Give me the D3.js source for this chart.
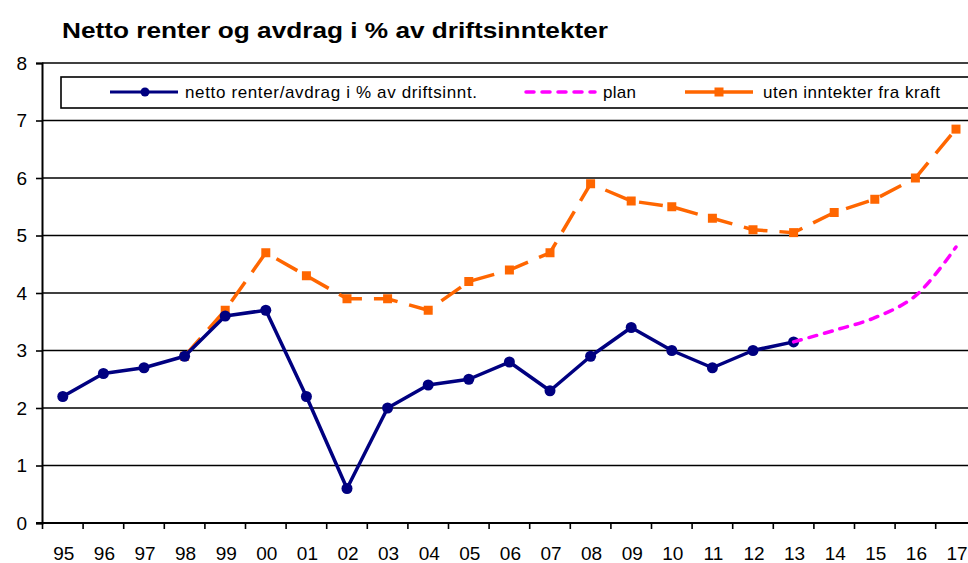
<!DOCTYPE html>
<html lang="no">

<head>
    <script src="https://cdnjs.cloudflare.com/ajax/libs/d3/7.8.5/d3.min.js"></script>
    <style>
        body { margin: 0; background: #fff; }
        text { font-family: "Liberation Sans", Arial, sans-serif; }
    </style>
</head>

<body>
    <script>
        var w = 968;
        var h = 563;

        var years = ["95", "96", "97", "98", "99", "00", "01", "02", "03", "04", "05", "06",
            "07", "08", "09", "10", "11", "12", "13", "14", "15", "16", "17"];

        // netto renter/avdrag i % av driftsinnt.
        var netto = [2.2, 2.6, 2.7, 2.9, 3.6, 3.7, 2.2, 0.6, 2.0, 2.4, 2.5, 2.8,
            2.3, 2.9, 3.4, 3.0, 2.7, 3.0, 3.15, null, null, null, null];

        // plan
        var plan = [null, null, null, null, null, null, null, null, null, null, null, null,
            null, null, null, null, null, null, 3.15, 3.35, 3.57, 3.95, 4.8];

        // uten inntekter fra kraft
        var uten = [null, null, null, 2.9, 3.7, 4.7, 4.3, 3.9, 3.9, 3.7, 4.2, 4.4,
            4.7, 5.9, 5.6, 5.5, 5.3, 5.1, 5.05, 5.4, 5.63, 6.0, 6.85];

        var yTicks = [0, 1, 2, 3, 4, 5, 6, 7, 8];

        var svg = d3.select("body").append("svg")
            .attr("width", w)
            .attr("height", h);

        var x = d3.scaleBand()
            .domain(years)
            .range([42.5, 42.5 + 23 * 40.6]);

        var y = d3.scaleLinear()
            .domain([0, 8])
            .range([523, 63]);

        var cx = d => x(d) + x.bandwidth() / 2;

        // title
        svg.append("text")
            .attr("x", 62)
            .attr("y", 38)
            .attr("font-size", "22px")
            .attr("font-weight", "bold")
            .attr("fill", "#000")
            .attr("textLength", 546)
            .attr("lengthAdjust", "spacingAndGlyphs")
            .text("Netto renter og avdrag i % av driftsinntekter");

        // gridlines
        svg.append("g").selectAll("line")
            .data(yTicks.filter(d => d > 0))
            .enter().append("line")
            .attr("x1", 42)
            .attr("x2", w)
            .attr("y1", d => y(d))
            .attr("y2", d => y(d))
            .attr("stroke", "#000")
            .attr("stroke-width", 1.6);

        // y axis
        var yAxis = svg.append("g")
            .attr("transform", "translate(42,0)")
            .call(d3.axisLeft(y).tickValues(yTicks).tickSize(6).tickFormat(d3.format("d")));
        yAxis.select(".domain").attr("stroke-width", 2);
        yAxis.selectAll(".tick line").attr("stroke-width", 1.6);
        yAxis.selectAll("text").attr("font-size", "19px").attr("fill", "#000")
            .attr("font-family", "Liberation Sans, Arial, sans-serif").attr("x", -15);

        // x axis: ticks between categories
        var xg = svg.append("g");
        xg.append("line")
            .attr("x1", 36).attr("x2", w)
            .attr("y1", y(0)).attr("y2", y(0))
            .attr("stroke", "#000").attr("stroke-width", 2);
        xg.selectAll(".xt")
            .data(years)
            .enter().append("line")
            .attr("class", "xt")
            .attr("x1", d => x(d)).attr("x2", d => x(d))
            .attr("y1", y(0)).attr("y2", y(0) + 6)
            .attr("stroke", "#000").attr("stroke-width", 1.6);
        xg.selectAll("text")
            .data(years)
            .enter().append("text")
            .attr("x", d => cx(d) + 1)
            .attr("y", 560)
            .attr("text-anchor", "middle")
            .attr("font-size", "19px")
            .attr("fill", "#000")
            .text(d => d);

        // legend
        svg.append("rect")
            .attr("x", 61).attr("y", 77)
            .attr("width", 940).attr("height", 31)
            .attr("fill", "#fff")
            .attr("stroke", "#000").attr("stroke-width", 1.6);

        var lg = svg.append("g").attr("font-size", "17px");
        lg.append("line").attr("x1", 110).attr("x2", 178).attr("y1", 92).attr("y2", 92)
            .attr("stroke", "#000080").attr("stroke-width", 3);
        lg.append("circle").attr("cx", 145).attr("cy", 92).attr("r", 4.5).attr("fill", "#000080");
        lg.append("text").attr("x", 185).attr("y", 98)
            .attr("textLength", 292).attr("lengthAdjust", "spacing")
            .text("netto renter/avdrag i % av driftsinnt.");

        lg.append("line").attr("x1", 526).attr("x2", 595).attr("y1", 92).attr("y2", 92)
            .attr("stroke", "#ff00ff").attr("stroke-width", 3.5)
            .attr("stroke-dasharray", "8,8").attr("stroke-linecap", "round");
        lg.append("text").attr("x", 603).attr("y", 98)
            .attr("textLength", 33).attr("lengthAdjust", "spacing")
            .text("plan");

        lg.append("line").attr("x1", 685).attr("x2", 753).attr("y1", 92).attr("y2", 92)
            .attr("stroke", "#ff6600").attr("stroke-width", 3.5)
            .attr("stroke-dasharray", "31,7");
        lg.append("rect").attr("x", 714.5).attr("y", 87.5).attr("width", 9).attr("height", 9)
            .attr("fill", "#ff6600");
        lg.append("text").attr("x", 763).attr("y", 98)
            .attr("textLength", 177).attr("lengthAdjust", "spacing")
            .text("uten inntekter fra kraft");

        var line = d3.line()
            .defined(d => d[1] != null)
            .x(d => cx(d[0]))
            .y(d => y(d[1]));

        // uten inntekter fra kraft
        var utenPts = years.map((d, i) => [d, uten[i]]);
        svg.append("path")
            .attr("d", line(utenPts))
            .attr("fill", "none")
            .attr("stroke", "#ff6600")
            .attr("stroke-width", 3.5)
            .attr("stroke-dasharray", "24,12");
        svg.selectAll(".sq")
            .data(utenPts.filter(d => d[1] != null))
            .enter().append("rect")
            .attr("class", "sq")
            .attr("x", d => cx(d[0]) - 4.5)
            .attr("y", d => y(d[1]) - 4.5)
            .attr("width", 9).attr("height", 9)
            .attr("fill", "#ff6600");

        // netto
        var nettoPts = years.map((d, i) => [d, netto[i]]);
        svg.append("path")
            .attr("d", line(nettoPts))
            .attr("fill", "none")
            .attr("stroke", "#000080")
            .attr("stroke-width", 3.5)
            .attr("stroke-linejoin", "round");
        svg.selectAll(".dot")
            .data(nettoPts.filter(d => d[1] != null))
            .enter().append("circle")
            .attr("class", "dot")
            .attr("cx", d => cx(d[0]))
            .attr("cy", d => y(d[1]))
            .attr("r", 5.5)
            .attr("fill", "#000080");

        // plan (smoothed)
        var planPts = years.map((d, i) => [d, plan[i]]).filter(d => d[1] != null);
        svg.append("path")
            .attr("d", d3.line().curve(d3.curveCatmullRom).x(d => cx(d[0])).y(d => y(d[1]))(planPts))
            .attr("fill", "none")
            .attr("stroke", "#ff00ff")
            .attr("stroke-width", 3.5)
            .attr("stroke-linecap", "round")
            .attr("stroke-dasharray", "8,8");
    </script>
</body>

</html>
